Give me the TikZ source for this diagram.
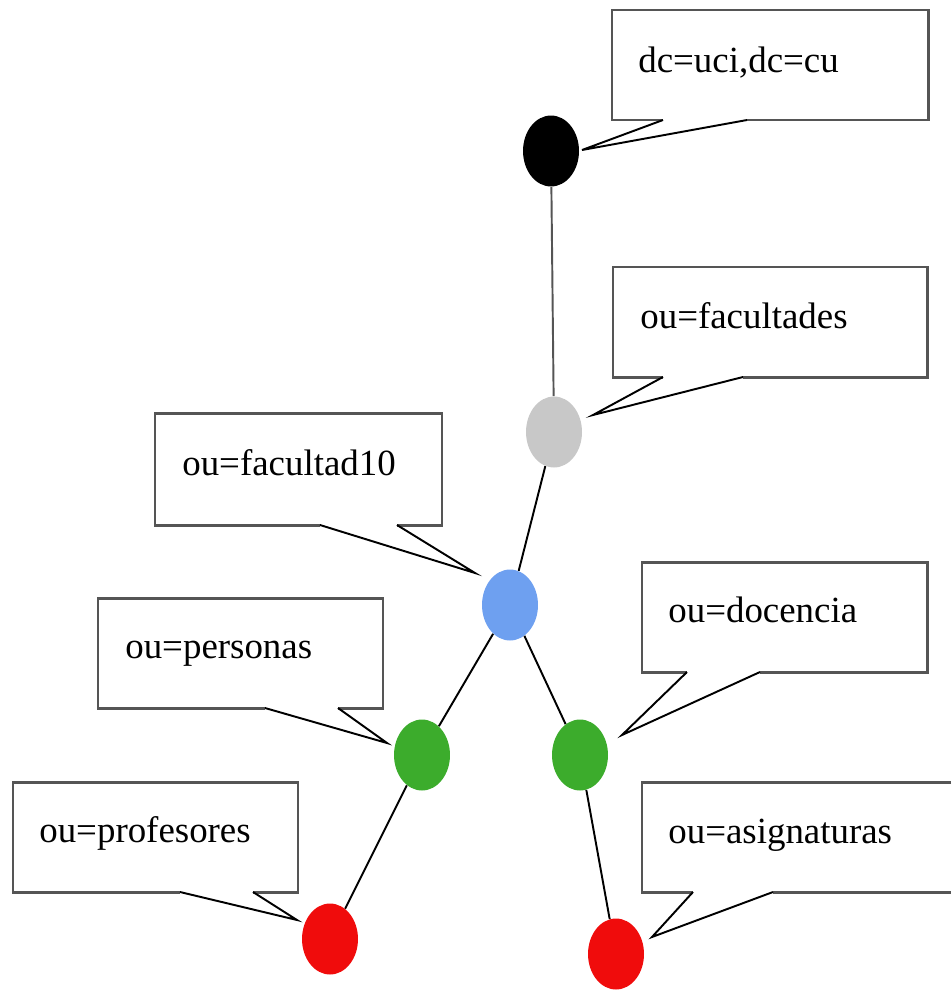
\documentclass[tikz,border=0pt]{standalone}
\usepackage{fontspec}
\setmainfont{Liberation Serif}
\usepackage{tikz}
\usetikzlibrary{shapes.geometric,calc,positioning}
\definecolor{dotgray}{RGB}{200,200,200}
\definecolor{dotblue}{RGB}{110,160,240}
\definecolor{dotgreen}{RGB}{60,172,44}
\definecolor{dotred}{RGB}{240,12,12}
\definecolor{boxgray}{RGB}{85,85,85}

\begin{document}
\begin{tikzpicture}[x=0.02cm,y=-0.02cm,
  dot/.style={ellipse,minimum width=1.12cm,minimum height=1.42cm,inner sep=0pt},
  edge/.style={line width=1.1pt},
  boxline/.style={boxgray,line width=1.7pt},
  tipline/.style={black,line width=1.1pt,line join=miter},
  lbl/.style={anchor=base west,inner sep=0pt,font=\fontsize{21}{25}\selectfont}]
\useasboundingbox (0,0) rectangle (951,991);
% tree
\node[dot,fill=black] (root) at (551,151) {};
\node[dot,fill=dotgray] (fac) at (554,432) {};
\node[dot,fill=dotblue] (f10) at (510,605) {};
\node[dot,fill=dotgreen] (per) at (422,755) {};
\node[dot,fill=dotgreen] (doc) at (580,755) {};
\node[dot,fill=dotred] (prof) at (330,939) {};
\node[dot,fill=dotred] (asig) at (616,954) {};
\draw[edge,boxgray] (root) -- (fac);
\draw[edge] (fac) -- (f10);
\draw[edge] (f10) -- (per);
\draw[edge] (f10) -- (doc);
\draw[edge] (per) -- (prof);
\draw[edge] (doc) -- (asig);
% callouts
\node[lbl] (tRoot) at (638,72) {dc=uci,dc=cu};
\draw[boxline] (747,120) -- (928,120) -- (928,10) -- (612,10) -- (612,120) -- (663,120);
\draw[tipline] (663,120) -- (582,150) -- (747,120);
\node[lbl] (tFac) at (640,328) {ou=facultades};
\draw[boxline] (743,377) -- (927,377) -- (927,267) -- (613,267) -- (613,377) -- (663,377);
\draw[tipline] (663,377) -- (593,415) -- (743,377);
\node[lbl] (tF10) at (182,475) {ou=facultad10};
\draw[boxline] (397,525) -- (442,525) -- (442,413) -- (155,413) -- (155,525) -- (320,525);
\draw[tipline] (320,525) -- (475,573) -- (397,525);
\node[lbl] (tPer) at (125,658) {ou=personas};
\draw[boxline] (338,708) -- (383,708) -- (383,598) -- (98,598) -- (98,708) -- (265,708);
\draw[tipline] (265,708) -- (387,743) -- (338,708);
\node[lbl] (tDoc) at (668,622) {ou=docencia};
\draw[boxline] (760,672) -- (927,672) -- (927,562) -- (642,562) -- (642,672) -- (687,672);
\draw[tipline] (687,672) -- (622,735) -- (760,672);
\node[lbl] (tProf) at (39,842) {ou=profesores};
\draw[boxline] (253,892) -- (298,892) -- (298,782) -- (13,782) -- (13,892) -- (180,892);
\draw[tipline] (180,892) -- (297,920) -- (253,892);
\node[lbl] (tAsig) at (668,843) {ou=asignaturas};
\draw[boxline] (951,782) -- (642,782) -- (642,892) -- (693,892);
\draw[boxline] (773,892) -- (951,892);
\draw[tipline] (693,892) -- (652,937) -- (773,892);
\end{tikzpicture}
\end{document}
